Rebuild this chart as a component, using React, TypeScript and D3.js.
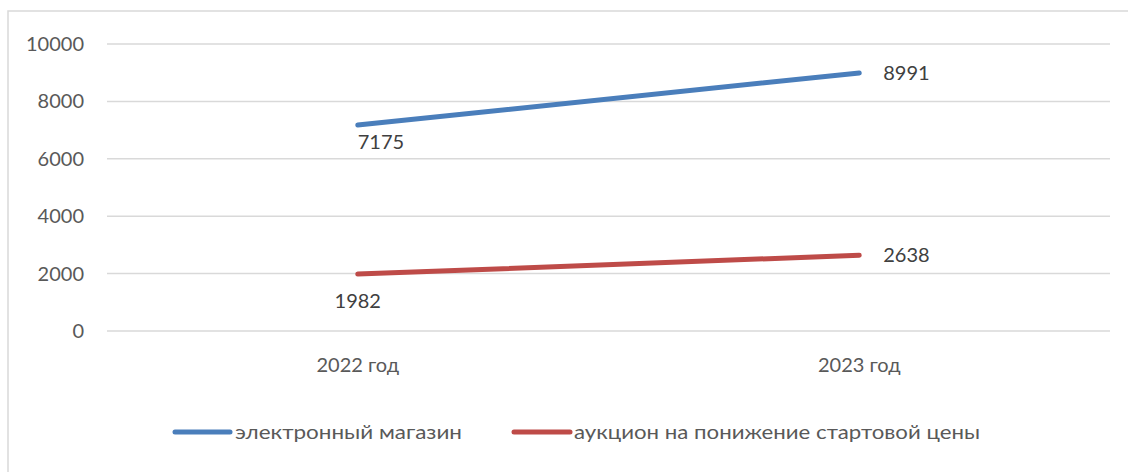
import React from 'react';
import * as d3 from 'd3';

const categories = ['2022 год', '2023 год'];
const seriesNames = ['электронный магазин', 'аукцион на понижение стартовой цены'];
const shopValues = [7175, 8991];
const auctionValues = [1982, 2638];
const yTicks = [0, 2000, 4000, 6000, 8000, 10000];

const colors = ['#4a7ebb', '#be4b48'];
const FONT = 'Lato, "Open Sans", sans-serif';

export default function App() {
  const width = 1128;
  const height = 472;
  const plot = { left: 107, right: 1110, top: 44, bottom: 331 };

  const x = d3.scaleBand<string>()
    .domain(categories)
    .range([plot.left, plot.right]);
  const y = d3.scaleLinear()
    .domain([0, 10000])
    .range([plot.bottom, plot.top]);

  const cx = (c: string) => (x(c) ?? 0) + x.bandwidth() / 2;

  const line = d3.line<number>()
    .x((_, i) => cx(categories[i]))
    .y(d => y(d));

  const series = [shopValues, auctionValues];

  // label placement per point, mimicking the original
  const labelPos = [
    [{ dx: 0, dy: 24, anchor: 'start' }, { dx: 24, dy: 7, anchor: 'start' }],
    [{ dx: 0, dy: 34, anchor: 'middle' }, { dx: 24, dy: 7, anchor: 'start' }],
  ];

  // legend
  const legend = [
    { x1: 175, x2: 230, tx: 235, len: 227 },
    { x1: 514, x2: 570, tx: 574, len: 406 },
  ];
  const legendY = 432;

  return (
    <svg width={width} height={height} style={{ position: 'absolute', left: 0, top: 0 }}>
      <rect x={0} y={0} width={width} height={height} fill="#fff" />
      <rect x={8} y={11} width={width + 20} height={height + 20} fill="#fff" stroke="#d9d9d9" strokeWidth={1.5} />

      {yTicks.map(t => (
        <g key={t}>
          <line x1={plot.left} x2={plot.right} y1={y(t)} y2={y(t)} stroke="#d9d9d9" strokeWidth={1.5} />
          <text x={84} y={y(t)} dy="0.35em" textAnchor="end" fontFamily={FONT} fontSize={20} fill="#595959">
            {t}
          </text>
        </g>
      ))}

      {categories.map(c => (
        <text key={c} x={cx(c)} y={372} textAnchor="middle" fontFamily={FONT} fontSize={20} fill="#595959">
          {c}
        </text>
      ))}

      {series.map((s, si) => (
        <path key={si} d={line(s) ?? ''} fill="none" stroke={colors[si]} strokeWidth={5} strokeLinecap="round" />
      ))}

      {series.map((s, si) =>
        s.map((v, i) => {
          const p = labelPos[si][i];
          return (
            <text key={`${si}-${i}`} x={cx(categories[i]) + p.dx} y={y(v) + p.dy}
              textAnchor={p.anchor as any} fontFamily={FONT} fontSize={20} fill="#404040">
              {v}
            </text>
          );
        })
      )}

      {seriesNames.map((n, i) => (
        <g key={n}>
          <line x1={legend[i].x1} x2={legend[i].x2} y1={legendY} y2={legendY} stroke={colors[i]} strokeWidth={5} strokeLinecap="round" />
          <text x={legend[i].tx} y={legendY} dy="0.35em" fontFamily={FONT} fontSize={20} fill="#595959"
            textLength={legend[i].len} lengthAdjust="spacingAndGlyphs">
            {n}
          </text>
        </g>
      ))}
    </svg>
  );
}
